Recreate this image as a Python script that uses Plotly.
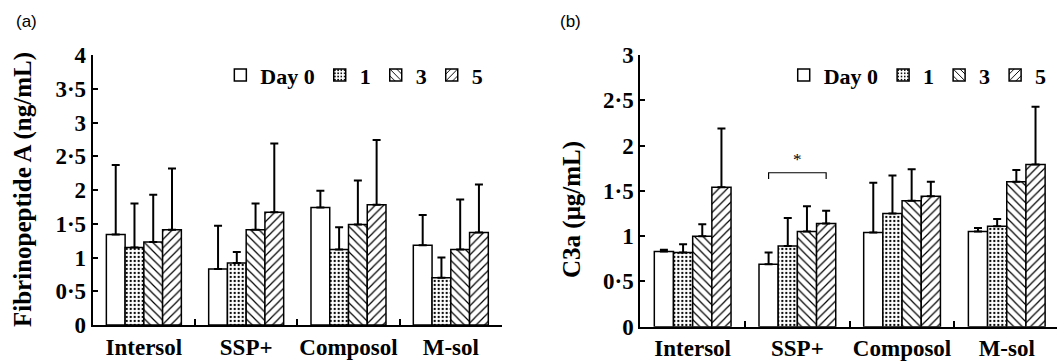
import plotly.graph_objects as go

categories = ["Intersol", "SSP+", "Composol", "M-sol"]
series_names = ["Day 0", "1", "3", "5"]

# Panel (a): Fibrinopeptide A (ng/mL) -- mean and top of error bar
fpa_mean = [
    [1.34, 0.83, 1.74, 1.18],   # Day 0
    [1.15, 0.92, 1.12, 0.70],   # Day 1
    [1.23, 1.41, 1.49, 1.12],   # Day 3
    [1.41, 1.67, 1.78, 1.37],   # Day 5
]
fpa_top = [
    [2.37, 1.47, 1.99, 1.63],
    [1.80, 1.08, 1.45, 1.00],
    [1.93, 1.80, 2.14, 1.86],
    [2.32, 2.69, 2.74, 2.08],
]

# Panel (b): C3a (ug/mL)
c3a_mean = [
    [0.83, 0.69, 1.04, 1.05],
    [0.82, 0.89, 1.25, 1.11],
    [1.00, 1.05, 1.39, 1.60],
    [1.54, 1.14, 1.44, 1.79],
]
c3a_top = [
    [0.85, 0.82, 1.59, 1.09],
    [0.91, 1.20, 1.67, 1.19],
    [1.13, 1.33, 1.74, 1.73],
    [2.19, 1.28, 1.60, 2.43],
]

ya_ticks = [0, 0.5, 1, 1.5, 2, 2.5, 3, 3.5, 4]
ya_text = ["0", "0·5", "1", "1·5", "2", "2·5", "3", "3·5", "4"]
yb_ticks = [0, 0.5, 1, 1.5, 2, 2.5, 3]
yb_text = ["0", "0·5", "1", "1·5", "2", "2·5", "3"]

sig_group = "SSP+"
sig_level = 1.70

patterns = [
    dict(shape="", fillmode="replace"),
    dict(shape=".", size=4, solidity=0.25, fgcolor="black", bgcolor="white", fillmode="replace"),
    dict(shape="\\", size=6, solidity=0.2, fgcolor="black", bgcolor="white", fillmode="replace"),
    dict(shape="/", size=6, solidity=0.2, fgcolor="black", bgcolor="white", fillmode="replace"),
]

SERIF = "Liberation Serif"
BAR_GAP = 0.267

fig = go.Figure()


def add_panel(means, tops, xa, ya, legend):
    for i, name in enumerate(series_names):
        fig.add_trace(go.Bar(
            x=categories, y=means[i], name=name,
            xaxis=xa, yaxis=ya, legend=legend,
            marker=dict(color="white", pattern=patterns[i],
                        line=dict(color="black", width=1.5)),
            error_y=dict(type="data", symmetric=False,
                         array=[t - m for t, m in zip(tops[i], means[i])],
                         arrayminus=[0] * len(means[i]),
                         color="black", thickness=2, width=4),
        ))


add_panel(fpa_mean, fpa_top, "x", "y", "legend")
add_panel(c3a_mean, c3a_top, "x2", "y2", "legend2")

axis_common = dict(showline=True, linecolor="black", linewidth=2,
                   showgrid=False, zeroline=False, mirror=False, automargin=False)
tickfont = dict(family=SERIF, size=23, color="black", weight="bold")
legfont = dict(family=SERIF, size=22, color="black", weight="bold")

fig.update_layout(
    template="none",
    width=1057, height=361,
    margin=dict(l=0, r=0, t=0, b=0, pad=0),
    paper_bgcolor="white", plot_bgcolor="white",
    barmode="group", bargap=BAR_GAP, bargroupgap=0,
    xaxis=dict(domain=[0.0877, 0.4749], range=[-0.5, 3.5], type="category",
               tickson="boundaries", ticks="inside", ticklen=6, tickwidth=1.5,
               tickangle=0, tickcolor="black", tickfont=tickfont, anchor="y",
               **axis_common),
    yaxis=dict(domain=[0.0997, 0.8476], range=[0, 4], tickvals=ya_ticks,
               ticktext=ya_text, ticks="inside", ticklen=5, tickwidth=1.5,
               tickcolor="black", tickfont=tickfont, anchor="x", **axis_common),
    xaxis2=dict(domain=[0.6058, 1.0], range=[-0.5, 3.48], type="category",
                tickson="boundaries", ticks="inside", ticklen=6, tickwidth=1.5,
                tickangle=0, tickcolor="black", tickfont=tickfont, anchor="y2",
                **axis_common),
    yaxis2=dict(domain=[0.095, 0.8476], range=[0, 3], tickvals=yb_ticks,
                ticktext=yb_text, ticks="inside", ticklen=5, tickwidth=1.5,
                tickcolor="black", tickfont=tickfont, anchor="x2", **axis_common),
    legend=dict(orientation="h", x=0.462, xanchor="right", y=0.85, yanchor="top",
                font=legfont, bgcolor="rgba(0,0,0,0)", itemwidth=30, tracegroupgap=0),
    legend2=dict(orientation="h", x=0.995, xanchor="right", y=0.85, yanchor="top",
                 font=legfont, bgcolor="rgba(0,0,0,0)", itemwidth=30, tracegroupgap=0),
    showlegend=True,
)

# axis titles and panel labels
fig.add_annotation(text="Fibrinopeptide A (ng/mL)", textangle=-90,
                   xref="paper", yref="paper", x=23 / 1057, y=(361 - 190) / 361,
                   showarrow=False, xanchor="center", yanchor="middle",
                   font=dict(family=SERIF, size=25, color="black", weight="bold"))
fig.add_annotation(text="C3a (μg/mL)", textangle=-90,
                   xref="paper", yref="paper", x=572 / 1057, y=(361 - 210) / 361,
                   showarrow=False, xanchor="center", yanchor="middle",
                   font=dict(family=SERIF, size=25, color="black", weight="bold"))
fig.add_annotation(text="(a)", xref="paper", yref="paper", x=14 / 1057, y=1 - 22 / 361,
                   showarrow=False, xanchor="left", yanchor="middle",
                   font=dict(family="Liberation Sans", size=17, color="black"))
fig.add_annotation(text="(b)", xref="paper", yref="paper", x=558 / 1057, y=1 - 22 / 361,
                   showarrow=False, xanchor="left", yanchor="middle",
                   font=dict(family="Liberation Sans", size=17, color="black"))

# significance bracket between Day 0 and Day 5 of SSP+
gi = categories.index(sig_group)
grp_w = 1 - BAR_GAP
bw = grp_w / len(series_names)
x_left = gi - grp_w / 2 + bw / 2
x_right = gi + grp_w / 2 - bw / 2
leg = 0.07
fig.add_shape(type="path", xref="x2", yref="y2",
              path=f"M {x_left} {sig_level - leg} L {x_left} {sig_level} "
                   f"L {x_right} {sig_level} L {x_right} {sig_level - leg}",
              line=dict(color="black", width=1.2))
fig.add_annotation(text="*", xref="x2", yref="y2", x=gi, y=sig_level + 0.02,
                   showarrow=False, yanchor="bottom",
                   font=dict(family=SERIF, size=17, color="black"))

fig.write_html("out.html")
